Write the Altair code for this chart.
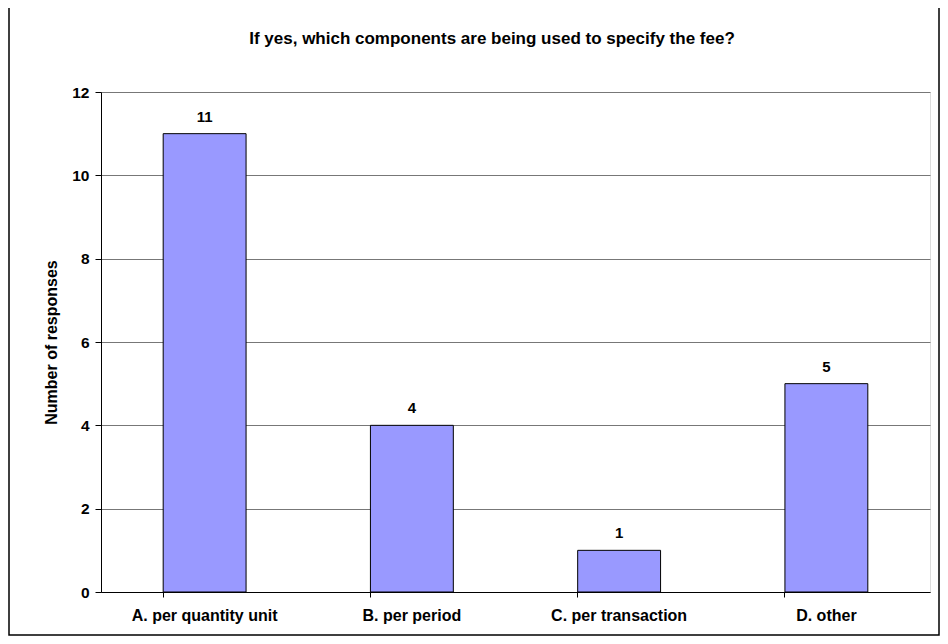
import altair as alt
import pandas as pd

categories = ["A. per quantity unit", "B. per period", "C. per transaction", "D. other"]
values = [11, 4, 1, 5]
title_text = "If yes, which components are being used to specify the fee?"

df = pd.DataFrame({"category": categories, "value": values})

W, H = 829, 500
FONT = "Liberation Sans"

base = alt.Chart(df)

x_enc = alt.X("category:N", sort=categories, title=None,
              scale=alt.Scale(paddingInner=0.6, paddingOuter=0.3),
              axis=alt.Axis(labelAngle=0, labelFont=FONT, labelFontSize=16, labelFontWeight="bold",
                            labelColor="black", tickColor="black", domainColor="black",
                            tickSize=5, labelPadding=10, bandPosition=0, grid=False))
y_enc = alt.Y("value:Q", title="Number of responses",
              scale=alt.Scale(domain=[0, 12], nice=False),
              axis=alt.Axis(values=[0, 2, 4, 6, 8, 10, 12], labelFont=FONT, labelFontSize=15.5,
                            labelFontWeight="bold", labelColor="black", tickColor="black",
                            domainColor="black", tickSize=6, labelPadding=6, grid=True,
                            gridColor="#777777", gridWidth=1,
                            titleFont=FONT, titleFontSize=16, titleFontWeight="bold",
                            titleColor="black", titlePadding=12))

bars = base.mark_bar(color="#9999FF", stroke="black", strokeWidth=1).encode(x=x_enc, y=y_enc)

labels = base.mark_text(dy=-17, font=FONT, fontSize=15, fontWeight="bold", color="black").encode(
    x=alt.X("category:N", sort=categories), y=alt.Y("value:Q"), text=alt.Text("value:Q"))

one = pd.DataFrame({"t": [title_text]})

frame = alt.Chart(one).mark_rect(
    fill=None, stroke="black", strokeWidth=1.5, clip=False).encode(
    x=alt.value(-92), x2=alt.value(W + 9), y=alt.value(-85), y2=alt.value(H + 43))

title = alt.Chart(one).mark_text(font=FONT, fontSize=17, fontWeight="bold", color="black",
                                 align="center", baseline="middle").encode(
    x=alt.value(391), y=alt.value(-53), text="t:N")

chart = alt.layer(frame, bars, labels, title).properties(
    width=W, height=H,
    autosize=alt.AutoSizeParams(type="none"),
    padding={"left": 93, "top": 84, "right": 10, "bottom": 44},
).configure_view(stroke="#999999", strokeWidth=1).configure(background="white")

chart.save("out.html", embed_options={"renderer": "svg", "actions": False})
